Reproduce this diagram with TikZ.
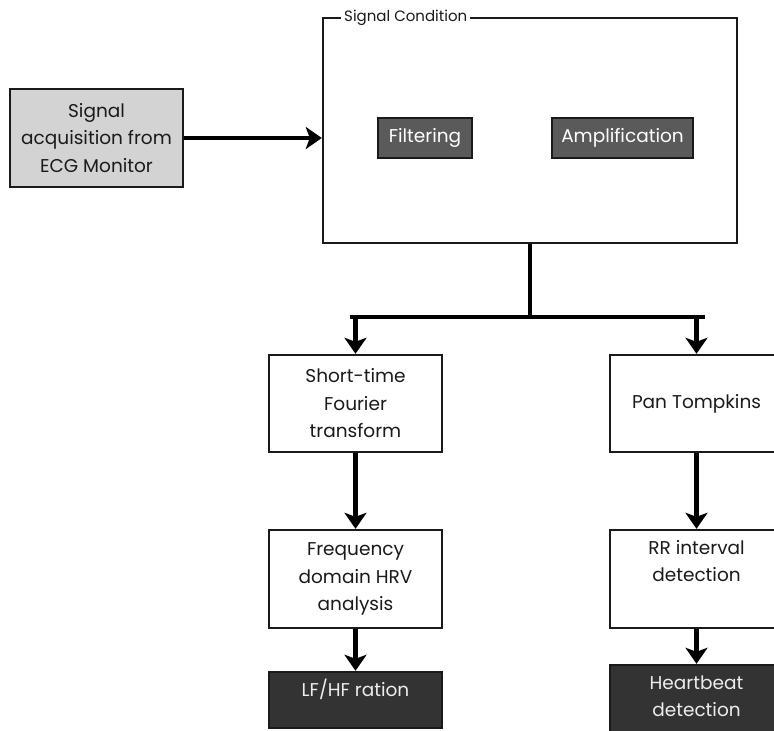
\documentclass[tikz,border=0pt]{standalone}
\usepackage{fontspec}
\setmainfont{Poppins}
\usetikzlibrary{arrows.meta,positioning}

\definecolor{inkc}{HTML}{1A1A1A}
\definecolor{lightbox}{HTML}{D3D3D3}
\definecolor{midbox}{HTML}{5A5A5A}
\definecolor{darkbox}{HTML}{333333}

\tikzset{
  box/.style={draw=inkc, line width=2.4bp, inner sep=0pt, align=center,
    font=\fontsize{18.5bp}{27.5bp}\selectfont, text=inkc},
  whitebox/.style={box, fill=white, minimum width=173bp},
  graybox/.style={box, fill=lightbox},
  stagebox/.style={box, fill=midbox, text=white, minimum height=40bp},
  outbox/.style={box, fill=darkbox, text=white!93!black, minimum width=173bp},
  flow/.style={line width=4.8bp, draw=black,
    -{Stealth[width=22bp,length=16bp,inset=4bp]}},
  bus/.style={line width=4.8bp, draw=black},
}

\begin{document}
\begin{tikzpicture}[x=1bp,y=-1bp]
  \useasboundingbox (0,0) rectangle (774,731);
  \clip (0,0) rectangle (774,731);

  % input stage
  \node[graybox, minimum width=173bp, minimum height=98bp]
    (acq) at (96.5,138) {Signal\\acquisition from\\ECG Monitor};

  % conditioning group
  \node[draw=inkc, line width=2.4bp, minimum width=414bp, minimum height=225bp,
        inner sep=0pt] (cond) at (530,130.5) {};
  \node[fill=white, anchor=west, inner sep=3bp, text=inkc,
        font=\fontsize{15bp}{16bp}\selectfont] (condtitle) at (341,18) {Signal Condition};
  \node[stagebox, minimum width=94bp] (filt) at (425,138) {Filtering};
  \node[stagebox, minimum width=141bp] (amp) at (622.5,138) {Amplification};

  % left branch
  \node[whitebox, minimum height=97bp] (stft) at (355.5,403.5)
    {Short-time\\Fourier\\transform};
  \node[whitebox, minimum height=98bp] (freq) at (355.5,579)
    {Frequency\\domain HRV\\analysis};
  \node[outbox, minimum height=56bp] (lfhf) at (355.5,700)
    {LF/HF ration\\[-12bp]\strut};

  % right branch
  \node[whitebox, minimum height=97bp] (pan) at (696.5,403.5) {Pan Tompkins};
  \node[whitebox, minimum height=98bp] (rr) at (696.5,579)
    {RR interval\\detection\\\strut};
  \node[outbox, minimum height=98bp] (hb) at (696.5,714)
    {Heartbeat\\detection\\\strut};

  % connectors
  \draw[flow] (acq.east) -- (cond.west |- acq.east);

  \coordinate (split) at (530,317);
  \coordinate (busL) at (350,317);
  \coordinate (busR) at (705,317);
  \draw[bus] (cond.south -| split) -- (split);
  \draw[bus] (busL) -- (busR);
  \draw[flow] (stft.north |- split) -- (stft.north);
  \draw[flow] (pan.north |- split) -- (pan.north);

  \draw[flow] (stft) -- (freq);
  \draw[flow] (freq) -- (lfhf);
  \draw[flow] (pan) -- (rr);
  \draw[flow] (rr) -- (hb);
\end{tikzpicture}
\end{document}
